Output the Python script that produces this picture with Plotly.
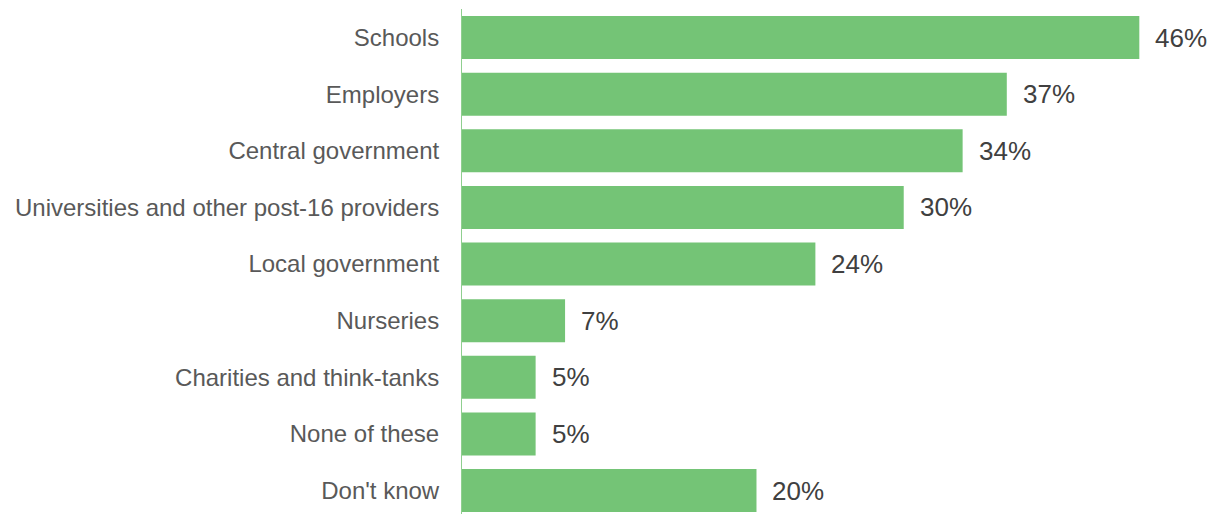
import plotly.graph_objects as go

# data
categories = ["Schools", "Employers", "Central government",
              "Universities and other post-16 providers", "Local government",
              "Nurseries", "Charities and think-tanks", "None of these", "Don't know"]
values = [46, 37, 34, 30, 24, 7, 5, 5, 20]
value_labels = [f"{v}%" for v in values]

bar_color = "#74C476"

fig = go.Figure()
fig.add_bar(x=values, y=categories, orientation="h", marker_color=bar_color,
            marker_line_width=0, hoverinfo="skip")

# value labels to the right of each bar
for cat, v, lab in zip(categories, values, value_labels):
    fig.add_annotation(x=v, y=cat, text=lab, showarrow=False, xanchor="left",
                       xshift=14, font=dict(size=26, color="#404040",
                                            family="Liberation Sans, Arial"))

fig.update_layout(
    width=1231, height=514,
    margin=dict(l=454, r=29, t=1, b=0),
    plot_bgcolor="white", paper_bgcolor="white",
    bargap=0.24, showlegend=False,
    font=dict(family="Liberation Sans, Arial", size=24, color="#595959"),
)
fig.update_xaxes(range=[0, 50.8], visible=False, showgrid=False, zeroline=False)
fig.update_yaxes(categoryorder="array", categoryarray=categories,
                 range=[8.556, -0.504], showgrid=False, zeroline=False,
                 showline=True, linecolor="#8FCF8F", linewidth=1,
                 ticks="", ticklabelstandoff=17,
                 tickfont=dict(size=24, color="#595959"))

fig.write_html("out.html")
